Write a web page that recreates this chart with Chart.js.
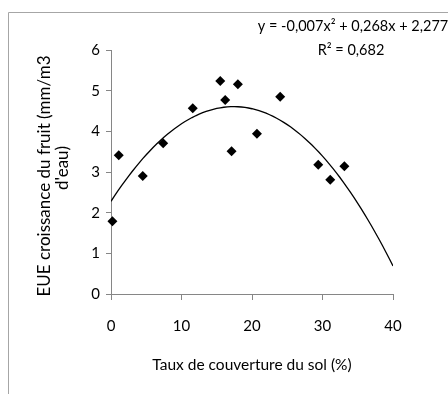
<!DOCTYPE html>
<html>
<head>
<meta charset="utf-8">
<script src="https://cdn.jsdelivr.net/npm/chart.js@4.4.1/dist/chart.umd.min.js"></script>
<style>
  html, body { margin: 0; padding: 0; background: #ffffff; }
  #wrap { width: 448px; height: 394px; position: relative; }
</style>
</head>
<body>
<div id="wrap"><canvas id="c" width="448" height="394"></canvas></div>
<script>
// Data
const coverage = [0.2, 1.1, 4.5, 7.4, 11.6, 15.5, 16.2, 17.1, 18.0, 20.7, 24.0, 29.4, 31.1, 33.1];
const eue      = [1.79, 3.41, 2.90, 3.71, 4.57, 5.24, 4.77, 3.51, 5.16, 3.94, 4.85, 3.18, 2.81, 3.14];
const xTicks = [0, 10, 20, 30, 40];
const yTicks = [0, 1, 2, 3, 4, 5, 6];
const xTitle = 'Taux de couverture du sol (%)';
const yTitle = ['EUE croissance du fruit (mm/m3', "d'eau)"];
const equationLines = ['y = -0,007x\u00B2 + 0,268x + 2,277', 'R\u00B2 = 0,682'];

// Least-squares polynomial (order 2) trendline from the data points
function polyFit2(xs, ys) {
  let s = [0,0,0,0,0], t = [0,0,0];
  for (let i = 0; i < xs.length; i++) {
    let p = 1;
    for (let k = 0; k < 5; k++) { s[k] += p; if (k < 3) t[k] += p * ys[i]; p *= xs[i]; }
  }
  const A = [[s[0], s[1], s[2], t[0]], [s[1], s[2], s[3], t[1]], [s[2], s[3], s[4], t[2]]];
  for (let i = 0; i < 3; i++) {
    for (let j = i + 1; j < 3; j++) {
      const f = A[j][i] / A[i][i];
      for (let k = i; k < 4; k++) A[j][k] -= f * A[i][k];
    }
  }
  const c = [0,0,0];
  for (let i = 2; i >= 0; i--) {
    let v = A[i][3];
    for (let k = i + 1; k < 3; k++) v -= A[i][k] * c[k];
    c[i] = v / A[i][i];
  }
  return c; // c0 + c1 x + c2 x^2
}
const coef = polyFit2(coverage, eue);
const trend = [];
for (let x = xTicks[0]; x <= xTicks[xTicks.length - 1] + 1e-9; x += 0.5) {
  trend.push({ x: x, y: coef[0] + coef[1] * x + coef[2] * x * x });
}

const points = coverage.map((x, i) => ({ x: x, y: eue[i] }));

const decor = {
  id: 'decor',
  beforeDraw(chart) {
    const ctx = chart.ctx;
    ctx.save();
    ctx.fillStyle = '#ffffff';
    ctx.fillRect(0, 0, chart.width, chart.height);
    ctx.strokeStyle = '#a6a6a6';
    ctx.lineWidth = 1;
    ctx.beginPath();
    ctx.moveTo(8.5, chart.height);
    ctx.lineTo(8.5, 12.5);
    ctx.lineTo(chart.width, 12.5);
    ctx.stroke();
    ctx.restore();
  },
  afterDraw(chart) {
    const ctx = chart.ctx;
    ctx.save();
    ctx.fillStyle = '#000000';
    ctx.font = '14.5px Lato';
    ctx.textAlign = 'center';
    ctx.textBaseline = 'middle';
    ctx.fillText(equationLines[0], 353, 26);
    ctx.fillText(equationLines[1], 351, 50);
    ctx.restore();

    // Y axis title (two rotated lines)
    const lines = [[yTitle[0], 45, 176], [yTitle[1], 63, 168]];
    lines.forEach(([txt, x, y]) => {
      ctx.save();
      ctx.fillStyle = '#000000';
      ctx.font = '17px Lato';
      ctx.textAlign = 'center';
      ctx.textBaseline = 'middle';
      ctx.translate(x, y);
      ctx.rotate(-Math.PI / 2);
      ctx.fillText(txt, 0, 0);
      ctx.restore();
    });
  }
};

new Chart(document.getElementById('c'), {
  type: 'scatter',
  data: {
    datasets: [
      {
        label: 'EUE',
        data: points,
        pointStyle: 'rectRot',
        pointRadius: 5,
        pointBorderWidth: 0,
        backgroundColor: '#000000',
        borderColor: '#000000',
        clip: false
      },
      {
        type: 'line',
        label: 'Tendance',
        data: trend,
        showLine: true,
        pointRadius: 0,
        borderColor: '#000000',
        borderWidth: 1.3,
        tension: 0,
        fill: false
      }
    ]
  },
  options: {
    responsive: false,
    animation: false,
    devicePixelRatio: 1,
    layout: { padding: { left: 0, right: 55, top: 50, bottom: 0 } },
    plugins: { legend: { display: false }, tooltip: { enabled: false } },
    scales: {
      x: {
        type: 'linear',
        min: xTicks[0],
        max: xTicks[xTicks.length - 1],
        afterBuildTicks(scale) { scale.ticks = xTicks.map(v => ({ value: v })); },
        afterFit(scale) { scale.height = 100; },
        ticks: { font: { family: 'Lato', size: 15 }, color: '#000000', padding: 17, maxRotation: 0 },
        grid: { display: true, drawOnChartArea: false, drawTicks: true, tickLength: 6, color: '#868686' },
        border: { display: true, color: '#868686', width: 1 },
        title: { display: true, text: xTitle, font: { family: 'Lato', size: 15.5 }, color: '#000000', padding: { top: 0, bottom: 20 } }
      },
      y: {
        type: 'linear',
        min: yTicks[0],
        max: yTicks[yTicks.length - 1],
        afterBuildTicks(scale) { scale.ticks = yTicks.map(v => ({ value: v })); },
        afterFit(scale) { scale.width = 111; },
        ticks: { font: { family: 'Lato', size: 15 }, color: '#000000', padding: 6 },
        grid: { display: true, drawOnChartArea: false, drawTicks: true, tickLength: 5, color: '#868686' },
        border: { display: true, color: '#868686', width: 1 },
        title: { display: false }
      }
    }
  },
  plugins: [decor]
});
</script>
</body>
</html>
